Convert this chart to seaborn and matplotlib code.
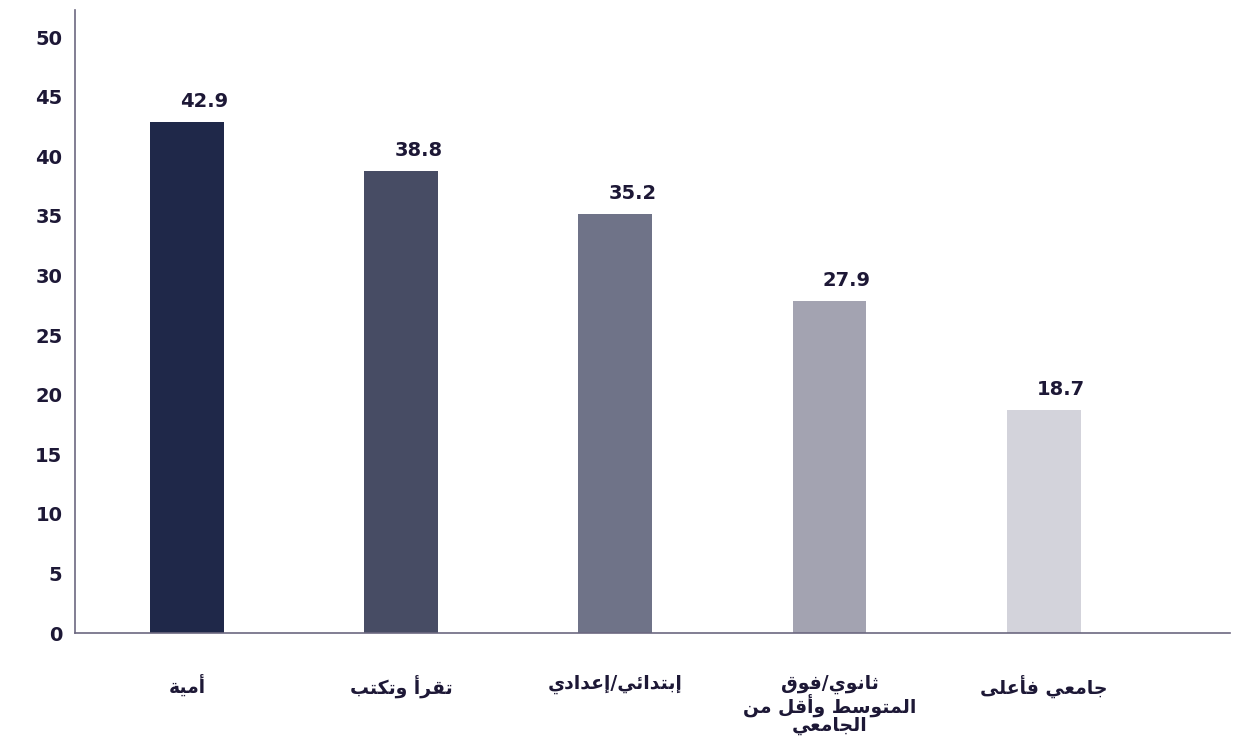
import matplotlib
matplotlib.use("Agg")
import matplotlib.pyplot as plt
import seaborn as sns
import pandas as pd

# ---------------- data ----------------
categories = ["أمية", "تقرأ وتكتب", "إبتدائي/إعدادي",
              "ثانوي/فوق\nالمتوسط وأقل من\nالجامعي", "جامعي فأعلى"]
values = [42.9, 38.8, 35.2, 27.9, 18.7]
value_labels = ["42.9", "38.8", "35.2", "27.9", "18.7"]
y_ticks = [0, 5, 10, 15, 20, 25, 30, 35, 40, 45, 50]
bar_colors = ["#1f2849", "#474c64", "#6f7388", "#a3a3b1", "#d3d3db"]

# ------------- minimal Arabic shaping (presentation forms) -------------
FORMS = {
    "\u0621": ("\uFE80",),
    "\u0622": ("\uFE81", "\uFE82"),
    "\u0623": ("\uFE83", "\uFE84"),
    "\u0624": ("\uFE85", "\uFE86"),
    "\u0625": ("\uFE87", "\uFE88"),
    "\u0626": ("\uFE89", "\uFE8A", "\uFE8B", "\uFE8C"),
    "\u0627": ("\uFE8D", "\uFE8E"),
    "\u0628": ("\uFE8F", "\uFE90", "\uFE91", "\uFE92"),
    "\u0629": ("\uFE93", "\uFE94"),
    "\u062A": ("\uFE95", "\uFE96", "\uFE97", "\uFE98"),
    "\u062B": ("\uFE99", "\uFE9A", "\uFE9B", "\uFE9C"),
    "\u062C": ("\uFE9D", "\uFE9E", "\uFE9F", "\uFEA0"),
    "\u062D": ("\uFEA1", "\uFEA2", "\uFEA3", "\uFEA4"),
    "\u062E": ("\uFEA5", "\uFEA6", "\uFEA7", "\uFEA8"),
    "\u062F": ("\uFEA9", "\uFEAA"),
    "\u0630": ("\uFEAB", "\uFEAC"),
    "\u0631": ("\uFEAD", "\uFEAE"),
    "\u0632": ("\uFEAF", "\uFEB0"),
    "\u0633": ("\uFEB1", "\uFEB2", "\uFEB3", "\uFEB4"),
    "\u0634": ("\uFEB5", "\uFEB6", "\uFEB7", "\uFEB8"),
    "\u0635": ("\uFEB9", "\uFEBA", "\uFEBB", "\uFEBC"),
    "\u0636": ("\uFEBD", "\uFEBE", "\uFEBF", "\uFEC0"),
    "\u0637": ("\uFEC1", "\uFEC2", "\uFEC3", "\uFEC4"),
    "\u0638": ("\uFEC5", "\uFEC6", "\uFEC7", "\uFEC8"),
    "\u0639": ("\uFEC9", "\uFECA", "\uFECB", "\uFECC"),
    "\u063A": ("\uFECD", "\uFECE", "\uFECF", "\uFED0"),
    "\u0641": ("\uFED1", "\uFED2", "\uFED3", "\uFED4"),
    "\u0642": ("\uFED5", "\uFED6", "\uFED7", "\uFED8"),
    "\u0643": ("\uFED9", "\uFEDA", "\uFEDB", "\uFEDC"),
    "\u0644": ("\uFEDD", "\uFEDE", "\uFEDF", "\uFEE0"),
    "\u0645": ("\uFEE1", "\uFEE2", "\uFEE3", "\uFEE4"),
    "\u0646": ("\uFEE5", "\uFEE6", "\uFEE7", "\uFEE8"),
    "\u0647": ("\uFEE9", "\uFEEA", "\uFEEB", "\uFEEC"),
    "\u0648": ("\uFEED", "\uFEEE"),
    "\u0649": ("\uFEEF", "\uFEF0"),
    "\u064A": ("\uFEF1", "\uFEF2", "\uFEF3", "\uFEF4"),
}


def shape_line(s):
    out = []
    n = len(s)
    for i, ch in enumerate(s):
        if ch not in FORMS:
            out.append(ch)
            continue
        f = FORMS[ch]
        prev = s[i - 1] if i > 0 else None
        nxt = s[i + 1] if i + 1 < n else None
        cp = prev is not None and prev in FORMS and len(FORMS[prev]) == 4
        cn = nxt is not None and nxt in FORMS and len(f) == 4
        if cp and cn:
            out.append(f[3])
        elif cp and len(f) >= 2:
            out.append(f[1])
        elif cn:
            out.append(f[2])
        else:
            out.append(f[0])
    return "".join(out)[::-1]


def shape(s):
    return "\n".join(shape_line(line) for line in s.split("\n"))


# ---------------- plot ----------------
sns.set_theme(style="white")
plt.rcParams["font.family"] = ["DejaVu Sans"]

text_color = "#1d1836"
axis_color = "#6c6880"

fig = plt.figure(figsize=(12.46, 7.51), dpi=100)
ax = fig.add_axes([0.0602, 0.157, 0.927, 0.83])

df = pd.DataFrame({"cat": categories, "val": values})
sns.barplot(data=df, x="cat", y="val", hue="cat", palette=bar_colors,
            width=0.345, legend=False, ax=ax, saturation=1, linewidth=0)

ax.set_xlim(-0.523, 4.87)
ax.set_ylim(0, 52.3)
ax.set_yticks(y_ticks)
ax.set_yticklabels([str(t) for t in y_ticks], fontsize=14,
                   fontweight="heavy", color=text_color)
ax.set_xticks(range(len(categories)))
ax.set_xticklabels([shape(c) for c in categories], fontsize=13.5,
                   fontweight="bold", color=text_color, linespacing=0.96,
                   va="top")
ax.tick_params(axis="x", length=0, pad=30)
ax.tick_params(axis="y", length=0, pad=9)
ax.set_xlabel("")
ax.set_ylabel("")

for side in ["top", "right"]:
    ax.spines[side].set_visible(False)
for side in ["left", "bottom"]:
    ax.spines[side].set_color(axis_color)
    ax.spines[side].set_linewidth(1.2)

for i, (v, lab) in enumerate(zip(values, value_labels)):
    ax.text(i + 0.08, v + 0.9, lab, ha="center", va="bottom",
            fontsize=14, fontweight="heavy", color=text_color)

fig.savefig("out.png", dpi=100, facecolor="white")
